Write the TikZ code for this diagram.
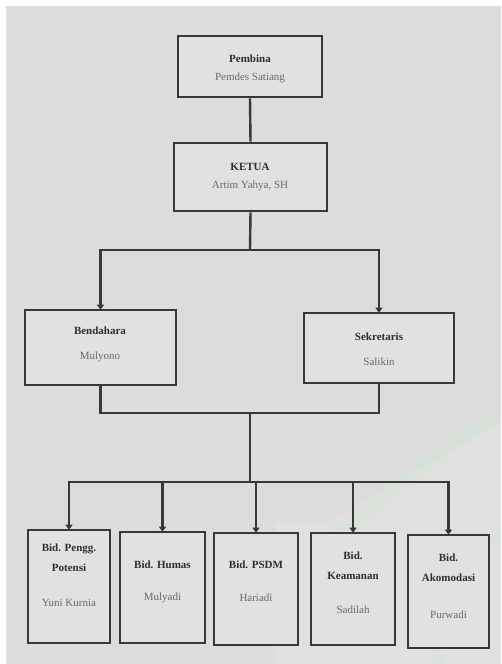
\documentclass[tikz,border=0pt]{standalone}
\usepackage{fontspec}
\setmainfont{Liberation Serif}
\usetikzlibrary{arrows.meta}
\definecolor{bg}{HTML}{DCDCDC}
\definecolor{ln}{HTML}{383838}
\definecolor{tt}{HTML}{2E2E2E}
\definecolor{nm}{HTML}{6A6A6A}
\definecolor{wm}{HTML}{D2E2D6}
\tikzset{
  box/.style={draw=ln, line width=2.6pt, fill=bg!85!white, inner sep=0pt},
  conn/.style={draw=ln, line width=2.4pt},
  arr/.style={conn, -{Triangle[width=7pt,length=5pt]}, shorten >=-1pt},
  ttl/.style={font=\fontsize{11}{20}\selectfont\bfseries, text=tt, align=center, inner sep=0pt},
  nam/.style={font=\fontsize{11}{13}\selectfont, text=nm, align=center, inner sep=0pt},
}
\begin{document}
\begin{tikzpicture}[x=1pt,y=-1pt]
\useasboundingbox (0,0) rectangle (501,664);
\fill[white] (0,0) rectangle (501,664);
\fill[bg] (6,6) rectangle (501,664);
% faint watermark
\begin{scope}
\clip (6,6) rectangle (501,664);
\fill[white, opacity=0.12] (275,522) -- (330,522) -- (501,420) -- (501,664) -- (275,664) -- cycle;
\draw[wm, line width=12pt, opacity=0.55] (330,540) .. controls (380,500) and (440,450) .. (501,415);
\draw[wm, line width=9pt, opacity=0.5] (440,664) .. controls (420,600) and (460,550) .. (501,535);
\end{scope}
% boxes
\node[box, minimum width=144pt, minimum height=61pt] (pem) at (250,66.5) {};
\node[ttl] (pemT) at (250,59) {Pembina};
\node[nam] (pemN) at (250,78) {Pemdes Satiang};

\node[box, minimum width=153pt, minimum height=68pt] (ket) at (250.5,177) {};
\node[ttl] (ketT) at (250,167) {KETUA};
\node[nam] (ketN) at (250,186) {Artim Yahya, SH};

\node[box, minimum width=151pt, minimum height=75pt] (ben) at (100.5,347.5) {};
\node[ttl] (benT) at (100,331) {Bendahara};
\node[nam] (benN) at (100,357) {Mulyono};

\node[box, minimum width=150pt, minimum height=70pt] (sek) at (379,348) {};
\node[ttl] (sekT) at (379,337) {Sekretaris};
\node[nam] (sekN) at (379,362) {Salikin};

\node[box, minimum width=82pt, minimum height=113pt] (b1) at (69,586.5) {};
\node[ttl] (b1T) at (69,557.5) {Bid. Pengg.\\Potensi};
\node[nam] (b1N) at (69,603) {Yuni Kurnia};

\node[box, minimum width=85pt, minimum height=111pt] (b2) at (162.5,587.5) {};
\node[ttl] (b2T) at (162.5,565) {Bid. Humas};
\node[nam] (b2N) at (162.5,598) {Mulyadi};

\node[box, minimum width=84pt, minimum height=112pt] (b3) at (256,589) {};
\node[ttl] (b3T) at (256,565) {Bid. PSDM};
\node[nam] (b3N) at (256,598) {Hariadi};

\node[box, minimum width=84pt, minimum height=112pt] (b4) at (353,589) {};
\node[ttl] (b4T) at (353,566) {Bid.\\Keamanan};
\node[nam] (b4N) at (353,610) {Sadilah};

\node[box, minimum width=81pt, minimum height=113pt] (b5) at (448.5,591.5) {};
\node[ttl] (b5T) at (448.5,567.5) {Bid.\\Akomodasi};
\node[nam] (b5N) at (448.5,615) {Purwadi};

% coordinates
\coordinate (j1) at (250,250);
\coordinate (j2) at (250,413);
\coordinate (j3) at (250,482);

% connectors
\draw[conn] (pem.south) -- (ket.south |- ket.north);
\draw[conn] (ket.south) -- (j1);
\draw[arr] (j1) -| (ben.north);
\draw[arr] (j1) -| (sek.north);
\draw[conn] (ben.south) |- (j2);
\draw[conn] (sek.south) |- (j2);
\draw[conn] (j2) -- (j3);
\draw[arr] (j3) -| (b1.north);
\draw[arr] (j3) -| (b2.north);
\draw[arr] (j3) -- (j3 -| b3.north) -- (b3.north);
\draw[arr] (j3) -| (b4.north);
\draw[arr] (j3) -| (b5.north);
\end{tikzpicture}
\end{document}
